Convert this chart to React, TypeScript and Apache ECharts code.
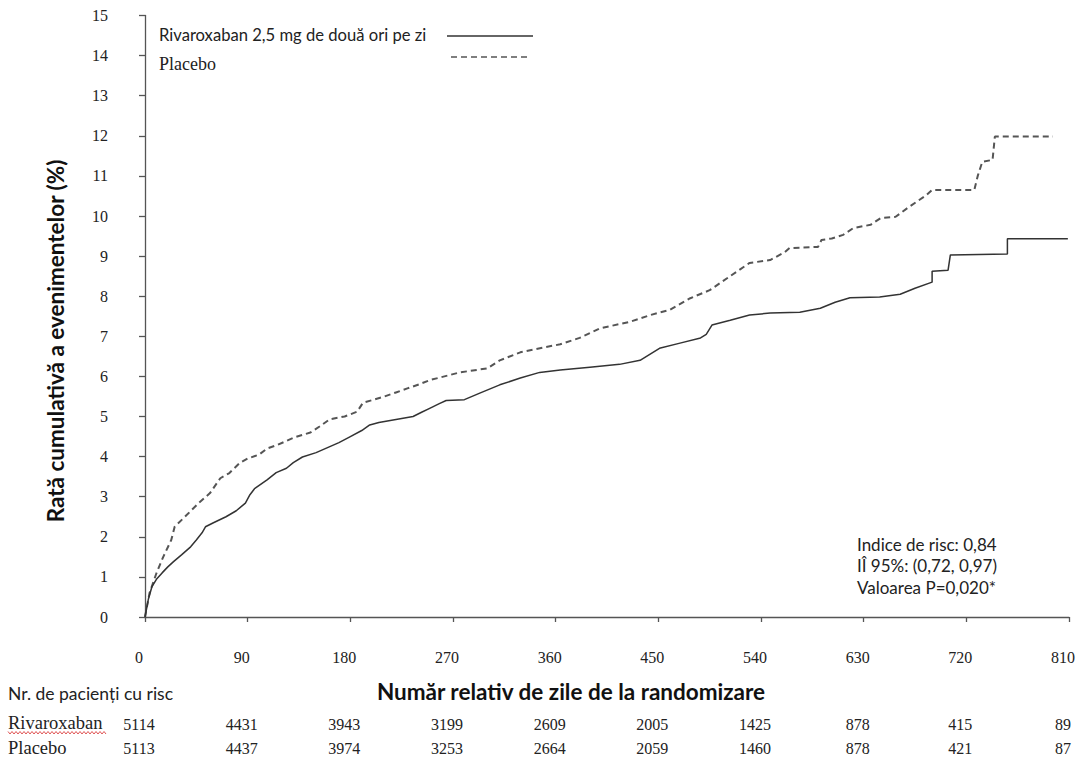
import React, { useEffect, useRef } from "react";
import * as echarts from "echarts";

// Kaplan-Meier style cumulative event rates [day, %]
const rivaroxabanCurve: [number, number][] = [
  [0, 0], [3, 0.45], [6, 0.75], [10, 0.94], [15, 1.1], [20, 1.25], [25, 1.38], [32, 1.55],
  [40, 1.75], [45, 1.92], [50, 2.1], [53, 2.25], [60, 2.35], [71, 2.5], [80, 2.65], [88, 2.84],
  [92, 3.05], [96, 3.2], [107, 3.42], [115, 3.6], [124, 3.71], [130, 3.85], [138, 3.99],
  [150, 4.1], [162, 4.25], [170, 4.35], [180, 4.5], [190, 4.65], [197, 4.79], [205, 4.85],
  [215, 4.9], [235, 5.0], [242, 5.1], [250, 5.21], [258, 5.32], [264, 5.4], [280, 5.42],
  [294, 5.59], [311, 5.79], [329, 5.96], [346, 6.1], [364, 6.16], [390, 6.23], [416, 6.3],
  [434, 6.4], [451, 6.7], [469, 6.83], [487, 6.96], [492, 7.05], [497, 7.28], [513, 7.4],
  [530, 7.53], [548, 7.58], [574, 7.6], [592, 7.7], [605, 7.85], [618, 7.96], [644, 7.98],
  [662, 8.05], [675, 8.2], [690, 8.35], [690, 8.62], [704, 8.65], [706, 9.03], [756, 9.05],
  [756, 9.43], [809, 9.43],
];

const placeboCurve: [number, number][] = [
  [0, 0], [4, 0.6], [10, 1.09], [16, 1.5], [23, 1.92], [26, 2.25], [35, 2.5], [47, 2.84],
  [57, 3.09], [66, 3.46], [74, 3.59], [83, 3.84], [90, 3.95], [100, 4.05], [107, 4.2],
  [116, 4.29], [131, 4.48], [145, 4.6], [153, 4.75], [162, 4.93], [175, 5.0], [186, 5.12],
  [191, 5.34], [209, 5.49], [220, 5.6], [230, 5.7], [240, 5.8], [250, 5.91], [276, 6.1],
  [300, 6.2], [311, 6.4], [329, 6.6], [351, 6.73], [364, 6.8], [381, 6.96], [399, 7.2],
  [425, 7.36], [443, 7.53], [460, 7.66], [478, 7.95], [495, 8.15], [513, 8.5], [530, 8.83],
  [548, 8.9], [561, 9.1], [565, 9.2], [590, 9.23], [593, 9.4], [602, 9.44], [612, 9.53],
  [621, 9.7], [636, 9.78], [645, 9.95], [658, 9.98], [668, 10.19], [685, 10.52], [690, 10.65],
  [727, 10.65], [730, 11.0], [734, 11.35], [743, 11.4], [745, 11.98], [796, 11.98],
];

const dayTicks = [0, 90, 180, 270, 360, 450, 540, 630, 720, 810];
const riskRivaroxaban = [5114, 4431, 3943, 3199, 2609, 2005, 1425, 878, 415, 89];
const riskPlacebo = [5113, 4437, 3974, 3253, 2664, 2059, 1460, 878, 421, 87];

const legendNames = ["Rivaroxaban 2,5 mg de două ori pe zi", "Placebo"];
const statLines = ["Indice de risc: 0,84", "IÎ 95%: (0,72, 0,97)", "Valoarea P=0,020*"];

const SERIF = "'Liberation Serif', 'DejaVu Serif', serif";
const SANS = "Lato, 'Noto Sans', sans-serif";
const AXIS = "#555";
const TXT = "#222";

export default function App() {
  const ref = useRef<HTMLDivElement>(null);

  useEffect(() => {
    if (!ref.current) return;
    const chart = echarts.init(ref.current, null, { renderer: "svg" });

    const riskAxis = (counts: number[], offset: number) => ({
      type: "value",
      gridIndex: 0,
      position: "bottom",
      offset,
      min: 0,
      max: 810,
      interval: 90,
      axisLine: { show: false },
      axisTick: { show: false },
      splitLine: { show: false },
      axisLabel: {
        margin: 9,
        fontFamily: SERIF,
        fontSize: 16,
        color: TXT,
        padding: [0, 12, 0, 0],
        showMinLabel: true,
        showMaxLabel: true,
        formatter: (v: number) => {
          const i = dayTicks.indexOf(v);
          return i >= 0 ? String(counts[i]) : "";
        },
      },
    });

    const wavy: number[][] = [];
    for (let x = 8; x <= 107; x += 2) wavy.push([x, x % 4 === 0 ? 731.5 : 734]);

    chart.setOption({
      animation: false,
      backgroundColor: "#fff",
      grid: { left: 145, top: 15.5, right: 9, bottom: 146, containLabel: false },
      xAxis: [
        {
          type: "value",
          min: 0,
          max: 810,
          interval: 90,
          axisLine: { lineStyle: { color: AXIS, width: 1.3 } },
          axisTick: { length: 5, lineStyle: { color: AXIS, width: 1.3 } },
          splitLine: { show: false },
          axisLabel: {
            margin: 32,
            fontFamily: SERIF,
            fontSize: 16,
            color: TXT,
            padding: [0, 12, 0, 0],
            showMinLabel: true,
            showMaxLabel: true,
          },
        },
        riskAxis(riskRivaroxaban, 90),
        riskAxis(riskPlacebo, 114),
      ],
      yAxis: {
        type: "value",
        min: 0,
        max: 15,
        interval: 1,
        axisLine: { show: true, lineStyle: { color: AXIS, width: 1.3 } },
        axisTick: { show: true, length: 6, lineStyle: { color: AXIS, width: 1.3 } },
        splitLine: { show: false },
        axisLabel: { margin: 37, fontFamily: SERIF, fontSize: 16, color: TXT },
      },
      series: [
        {
          name: legendNames[0],
          type: "line",
          data: rivaroxabanCurve,
          showSymbol: false,
          symbol: "none",
          lineStyle: { color: "#333", width: 1.5 },
          z: 3,
        },
        {
          name: legendNames[1],
          type: "line",
          data: placeboCurve,
          showSymbol: false,
          symbol: "none",
          lineStyle: { color: "#555", width: 2, type: [6, 4] },
          z: 2,
        },
      ],
      graphic: [
        {
          type: "text",
          x: 55,
          y: 341,
          rotation: Math.PI / 2,
          style: {
            text: "Rată cumulativă a evenimentelor (%)",
            font: `bold 22.5px ${SANS}`,
            fill: "#111",
            textAlign: "center",
            textVerticalAlign: "middle",
          },
        },
        {
          type: "text",
          x: 571,
          y: 691,
          style: {
            text: "Număr relativ de zile de la randomizare",
            font: `bold 22.5px ${SANS}`,
            fill: "#111",
            textAlign: "center",
            textVerticalAlign: "middle",
          },
        },
        {
          type: "text",
          x: 159,
          y: 35,
          style: { text: legendNames[0], font: `16.6px ${SANS}`, fill: TXT, textVerticalAlign: "middle" },
        },
        {
          type: "line",
          shape: { x1: 447, y1: 36, x2: 533, y2: 36 },
          style: { stroke: "#333", lineWidth: 1.5 },
        },
        {
          type: "text",
          x: 159,
          y: 64,
          style: { text: legendNames[1], font: `18px ${SERIF}`, fill: TXT, textVerticalAlign: "middle" },
        },
        {
          type: "line",
          shape: { x1: 451, y1: 57, x2: 531, y2: 57 },
          style: { stroke: "#555", lineWidth: 1.5, lineDash: [6, 4] },
        },
        ...statLines.map((t, i) => ({
          type: "text",
          x: 857,
          y: 544 + i * 21.5,
          style: { text: t, font: `17px ${SANS}`, fill: TXT, textVerticalAlign: "middle" },
        })),
        {
          type: "text",
          x: 8,
          y: 693,
          style: { text: "Nr. de pacienți cu risc", font: `17.5px ${SANS}`, fill: TXT, textVerticalAlign: "middle" },
        },
        {
          type: "text",
          x: 8,
          y: 723,
          style: { text: "Rivaroxaban", font: `18.5px ${SERIF}`, fill: TXT, textVerticalAlign: "middle" },
        },
        {
          type: "polyline",
          shape: { points: wavy },
          style: { stroke: "#e05555", lineWidth: 1, fill: null },
        },
        {
          type: "text",
          x: 8,
          y: 748,
          style: { text: "Placebo", font: `18.5px ${SERIF}`, fill: TXT, textVerticalAlign: "middle" },
        },
      ],
    });

    return () => chart.dispose();
  }, []);

  return (
    <div
      ref={ref}
      style={{ position: "absolute", left: 0, top: 0, width: 1078, height: 763, background: "#fff" }}
    />
  );
}
